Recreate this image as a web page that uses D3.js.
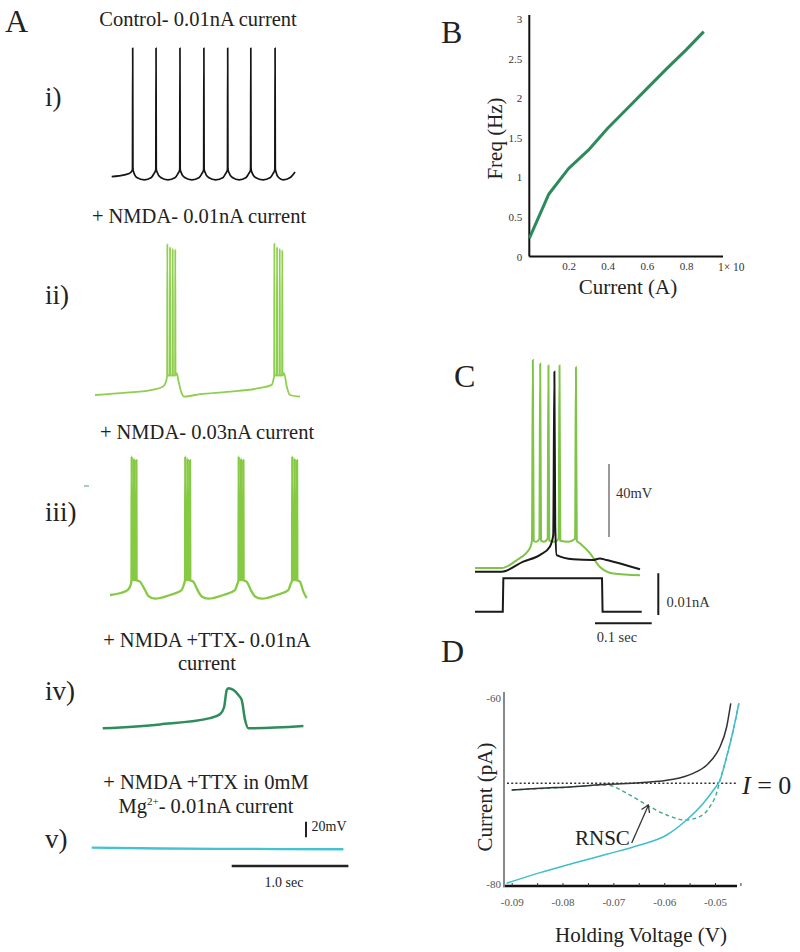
<!DOCTYPE html>
<html><head><meta charset="utf-8">
<script src="https://cdn.jsdelivr.net/npm/d3@7"></script>
<style>
body{margin:0;background:#fff}
svg{display:block}
text{font-family:"Liberation Serif","Times New Roman",serif;fill:#222}
</style>
</head><body>
<svg id="fig" width="800" height="952"></svg>
<script>
// ---------------- DATA ----------------
// Panel A traces: [time (ms), membrane potential (mV)]
const traceI = [[0,-65],[60,-64],[150,-61],[176,-57],[178,-55],[180,100],[182,-55],[186,-58],[215,-66],[280,-69],[340,-66],[362,-61],[376,-57],[378,-55],[380,100],[382,-55],[386,-58],[420,-66],[482,-69],[545,-66],[567,-61],[581,-57],[583,-55],[585,100],[587,-55],[591,-58],[625,-66],[688,-69],[750,-66],[772,-61],[786,-57],[788,-55],[790,100],[792,-55],[796,-58],[830,-66],[892,-69],[955,-66],[976,-61],[990,-57],[992,-55],[994,100],[996,-55],[1000,-58],[1034,-66],[1093,-69],[1152,-66],[1174,-61],[1188,-57],[1190,-55],[1192,100],[1194,-55],[1198,-58],[1232,-66],[1296,-69],[1360,-66],[1382,-61],[1396,-57],[1398,-55],[1400,100],[1402,-55],[1406,-58],[1430,-66],[1470,-69],[1530,-66],[1571,-59]];
const traceII = [[0,-65],[270,-62],[500,-58],[585,-54],[608,-48],[618,-40],[620,129],[622,-40],[641,-40],[643,125],[645,-40],[664,-40],[666,123],[668,-40],[686,-40],[688,122],[690,-40],[700,-37],[714,-46],[743,-63],[763,-67],[900,-64],[1129,-61],[1414,-56],[1514,-52],[1528,-46],[1535,-40],[1537,130],[1539,-40],[1558,-40],[1560,125],[1562,-40],[1581,-40],[1583,123],[1585,-40],[1603,-40],[1605,121],[1607,-40],[1620,-37],[1643,-54],[1671,-65],[1757,-67]];
const traceIII = [[0,-65],[143,-59.5],[177,-52],[184,-46],[186,113],[188,-46],[204,-46],[206,110],[208,-46],[224,-46],[226,108],[228,-46],[257,-48],[300,-58.6],[328,-66],[386,-69.7],[514,-65],[614,-58.6],[634,-51],[643,-46],[645,113],[647,-46],[664,-46],[666,110],[668,-46],[684,-46],[686,108],[688,-46],[714,-48],[757,-60.7],[786,-67],[843,-69.7],[971,-65],[1071,-58.6],[1091,-51],[1101,-46],[1103,113],[1105,-46],[1121,-46],[1123,110],[1125,-46],[1141,-46],[1143,108],[1145,-46],[1171,-48],[1214,-60.7],[1243,-67],[1300,-69.7],[1428,-65],[1528,-58.6],[1548,-51],[1560,-46],[1562,113],[1564,-46],[1581,-46],[1583,110],[1585,-46],[1601,-46],[1603,108],[1605,-46],[1628,-48],[1657,-60.7],[1686,-69]];
const traceIV = [[0,-65],[491,-60],[920,-52],[1005,-47],[1040,-38],[1063,-16],[1077,-13.7],[1163,-22.3],[1191,-28.7],[1220,-54.4],[1249,-65],[1720,-62]];
const traceV = [[0,-65],[600,-66],[1200,-66.5],[2157,-67]];
const rowTitles = [["Control- 0.01nA current"],["+ NMDA- 0.01nA current"],["+ NMDA- 0.03nA current"],["+ NMDA +TTX- 0.01nA","current"],["+ NMDA +TTX in 0mM","Mg2+- 0.01nA current"]];
const rowLabels = ["i)","ii)","iii)","iv)","v)"];
const scaleA = {mV:20, ms:1000, mVLabel:"20mV", msLabel:"1.0 sec"};

// Panel B: F-I curve
const bCurrent = [0, 0.1, 0.2, 0.3, 0.4, 0.5, 0.6, 0.7, 0.8, 0.89];
const bFreq    = [0.23, 0.79, 1.11, 1.34, 1.62, 1.87, 2.12, 2.37, 2.61, 2.84];
const bYTicks = [0, 0.5, 1, 1.5, 2, 2.5, 3];
const bXTicks = [0.2, 0.4, 0.6, 0.8];

// Panel C: [time (ms), mV] and current step [time (ms), nA]
const cGreen = [[0,-63],[47,-63],[74,-58.6],[97,-52],[100.5,-48],[102,51],[103.5,-48],[108,-48.6],[113.5,-47],[115,49],[116.5,-48],[122,-48.6],[128,-47],[129.5,48],[131,-48],[140,-48.6],[147.5,-47],[149,48],[150.5,-48],[165,-48.6],[176.5,-47],[178,47],[179.5,-48],[185,-49.4],[203,-55],[220,-62.3],[244,-66],[291,-67]];
const cBlack = [[0,-65],[47,-65],[85,-59.5],[115,-55.8],[132,-51.3],[138,-45],[140,44.6],[141.5,-40],[144,-55.9],[173,-58.2],[208,-58.6],[220,-57.7],[232,-58.6],[244,-59.5],[291,-63.7]];
const cStep = [[0,0],[49,0],[50,0.008],[224,0.008],[225,0],[294,0]];
const scaleC = {mV:40, nA:0.01, ms:100, mVLabel:"40mV", nALabel:"0.01nA", msLabel:"0.1 sec"};

// Panel D: I-V curves [holding voltage (V), current (pA)]
const dBlack = [[-0.0900,-69.89],[-0.0844,-69.71],[-0.0779,-69.54],[-0.0713,-69.28],[-0.0648,-69.11],[-0.0582,-68.74],[-0.0543,-68.10],[-0.0516,-67.20],[-0.0497,-65.95],[-0.0490,-65.24],[-0.0477,-63.09],[-0.0469,-60.57]];
const dCyan = [[-0.0910,-79.92],[-0.0844,-78.78],[-0.0779,-77.77],[-0.0713,-76.80],[-0.0648,-75.81],[-0.0595,-74.73],[-0.0556,-73.12],[-0.0523,-71.32],[-0.0503,-69.89],[-0.0490,-68.82],[-0.0477,-66.31],[-0.0464,-63.44],[-0.0453,-60.57]];
const dRNSC = [[-0.0900,-69.89],[-0.0800,-69.62],[-0.0713,-69.35],[-0.0674,-70.24],[-0.0634,-71.51],[-0.0595,-72.58],[-0.0559,-73.12],[-0.0530,-72.76],[-0.0510,-71.69],[-0.0497,-70.24],[-0.0490,-68.82],[-0.0477,-66.31],[-0.0464,-63.44],[-0.0453,-60.57]];
const dZero = -69.17;
const dXTicks = [-0.09, -0.08, -0.07, -0.06, -0.05];
const dXMinor = [-0.09,-0.085,-0.08,-0.075,-0.07,-0.065,-0.06,-0.055,-0.05,-0.045];
const dYTicks = [-60, -80];

// ---------------- DRAW ----------------
const svg = d3.select('#fig');
const serif = '"Liberation Serif","Times New Roman",serif';

function txt(x, y, s, size, opts = {}) {
  const t = svg.append('text').attr('x', x).attr('y', y).attr('font-size', size).text(s);
  if (opts.anchor) t.attr('text-anchor', opts.anchor);
  if (opts.fill) t.style('fill', opts.fill);
  if (opts.rotate) t.attr('transform', `rotate(-90,${x},${y})`);
  return t;
}

// panel letters
txt(5, 32, 'A', 32);
txt(441, 43, 'B', 32);
txt(454, 387, 'C', 32);
txt(441, 662, 'D', 32);

// ---- Panel A ----
const rows = [
  {data: traceI,   x0: 111.7, base: 176.7, color: '#151515', w: 1.7, tx: 198, ty: [26],          ly: 106},
  {data: traceII,  x0: 95,    base: 395,   color: '#8fcf4f', w: 1.8, tx: 199, ty: [223],         ly: 304},
  {data: traceIII, x0: 110,   base: 595,   color: '#86c943', w: 2.3, tx: 207, ty: [439],         ly: 521},
  {data: traceIV,  x0: 102.7, base: 728.3, color: '#2f8c5c', w: 2.5, tx: 207, ty: [647, 670],    ly: 700},
  {data: traceV,   x0: 91.7,  base: 847.7, color: '#45c2d0', w: 2.3, tx: 206, ty: [788.5, 813],  ly: 848}
];
const pxPerSec = 116.7, pxPerMv = 0.78;
rows.forEach((r, i) => {
  const x = d3.scaleLinear().domain([0, 1000]).range([r.x0, r.x0 + pxPerSec]);
  const y = d3.scaleLinear().domain([-65, -45]).range([r.base, r.base - 20 * pxPerMv]);
  const line = d3.line().x(d => x(d[0])).y(d => y(d[1])).curve(d3.curveMonotoneX);
  svg.append('path').datum(r.data).attr('d', line)
    .attr('fill', 'none').attr('stroke', r.color).attr('stroke-width', r.w)
    .attr('stroke-linejoin', 'round');
  rowTitles[i].forEach((s, k) => {
    if (s.startsWith('Mg2+')) {
      const t = svg.append('text').attr('x', r.tx).attr('y', r.ty[k]).attr('font-size', 20.5).attr('text-anchor', 'middle');
      t.append('tspan').text('Mg');
      t.append('tspan').attr('font-size', 11).attr('dy', -8).text('2+');
      t.append('tspan').attr('dy', 8).text(s.slice(4));
    } else {
      txt(r.tx, r.ty[k], s, 20.5, {anchor: 'middle'});
    }
  });
  txt(45, r.ly, rowLabels[i], 27);
});
// tiny stray mark left of row iii
svg.append('line').attr('x1', 84).attr('x2', 89).attr('y1', 486).attr('y2', 486).attr('stroke', '#6aa9a0').attr('stroke-width', 1.2);

// A scale bars
{
  const yb = d3.scaleLinear().domain([0, scaleA.mV]).range([837.3, 837.3 - scaleA.mV * pxPerMv]);
  svg.append('line').attr('x1', 306).attr('x2', 306).attr('y1', yb(0)).attr('y2', yb(scaleA.mV)).attr('stroke', '#222').attr('stroke-width', 2);
  txt(311.5, 830.5, scaleA.mVLabel, 14);
  const xb = d3.scaleLinear().domain([0, 1000]).range([231.7, 231.7 + pxPerSec]);
  svg.append('line').attr('x1', xb(0)).attr('x2', xb(scaleA.ms)).attr('y1', 866).attr('y2', 866).attr('stroke', '#222').attr('stroke-width', 2.5);
  txt(284, 887, scaleA.msLabel, 14, {anchor: 'middle'});
}

// ---- Panel B ----
{
  const x = d3.scaleLinear().domain([0, 1]).range([529.3, 725.3]);
  const y = d3.scaleLinear().domain([0, 3]).range([256.5, 19]);
  const gx = svg.append('g').attr('transform', 'translate(0,256.5)')
    .call(d3.axisBottom(x).tickValues(bXTicks).tickSize(0).tickPadding(6).tickFormat(d => d.toString()));
  const gy = svg.append('g').attr('transform', 'translate(529.3,0)')
    .call(d3.axisLeft(y).tickValues(bYTicks).tickSize(0).tickPadding(7).tickFormat(d => d.toString()));
  [gx, gy].forEach(g => {
    g.select('.domain').attr('stroke', '#111').attr('stroke-width', 2);
    g.selectAll('text').attr('font-family', serif).attr('font-size', 11).style('fill', '#333');
  });
  gy.select('.domain').attr('d', 'M0,256.5V15');
  gx.select('.domain').attr('d', 'M0,0H' + (723 - 529.3)).attr('transform', 'translate(529.3,0)');
  txt(718, 270.5, '1× 10', 11.5, {fill: '#333'});
  svg.append('path').datum(bCurrent.map((c, i) => [c, bFreq[i]]))
    .attr('d', d3.line().x(d => x(d[0])).y(d => y(d[1])))
    .attr('fill', 'none').attr('stroke', '#2d8a5c').attr('stroke-width', 3).attr('stroke-linejoin', 'round');
  txt(502, 138.5, 'Freq (Hz)', 21, {anchor: 'middle', rotate: true});
  txt(628, 294, 'Current (A)', 21, {anchor: 'middle'});
}

// ---- Panel C ----
{
  const x = d3.scaleLinear().domain([0, 100]).range([475, 531.7]);
  const y = d3.scaleLinear().domain([-65, -25]).range([571.7, 498.7]);
  const yi = d3.scaleLinear().domain([0, 0.01]).range([611.7, 569.95]);
  const lineV = d3.line().x(d => x(d[0])).y(d => y(d[1])).curve(d3.curveMonotoneX);
  svg.append('path').datum(cGreen).attr('d', lineV).attr('fill', 'none').attr('stroke', '#7fc447').attr('stroke-width', 2);
  svg.append('path').datum(cBlack).attr('d', lineV).attr('fill', 'none').attr('stroke', '#1a1a1a').attr('stroke-width', 2);
  svg.append('path').datum(cStep).attr('d', d3.line().x(d => x(d[0])).y(d => yi(d[1])))
    .attr('fill', 'none').attr('stroke', '#1a1a1a').attr('stroke-width', 2);
  // scale bars
  const ybar = d3.scaleLinear().domain([0, 40]).range([537, 537 - 40 * 1.825]);
  svg.append('line').attr('x1', 609).attr('x2', 609).attr('y1', ybar(0)).attr('y2', ybar(scaleC.mV)).attr('stroke', '#777').attr('stroke-width', 1.5);
  txt(616, 498, scaleC.mVLabel, 14.5, {fill: '#333'});
  const ibar = d3.scaleLinear().domain([0, 0.01]).range([615, 615 - 41.75]);
  svg.append('line').attr('x1', 658.3).attr('x2', 658.3).attr('y1', ibar(0)).attr('y2', ibar(scaleC.nA)).attr('stroke', '#1a1a1a').attr('stroke-width', 2);
  txt(666.5, 607, scaleC.nALabel, 14.5, {fill: '#333'});
  const tbar = d3.scaleLinear().domain([0, 100]).range([595, 595 + 56.7]);
  svg.append('line').attr('x1', tbar(0)).attr('x2', tbar(scaleC.ms)).attr('y1', 623.3).attr('y2', 623.3).attr('stroke', '#1a1a1a').attr('stroke-width', 2);
  txt(617, 642, scaleC.msLabel, 14.5, {anchor: 'middle', fill: '#333'});
}

// ---- Panel D ----
{
  const x = d3.scaleLinear().domain([-0.09, -0.05]).range([511.7, 715]);
  const y = d3.scaleLinear().domain([-80, -60]).range([884, 698]);
  const gxm = svg.append('g').attr('transform', 'translate(0,886)')
    .call(d3.axisBottom(x).tickValues(dXMinor).tickSize(-3).tickFormat(''));
  gxm.select('.domain').attr('d', 'M503,0H737').attr('stroke', '#111').attr('stroke-width', 2.5);
  gxm.selectAll('.tick line').attr('stroke', '#333').attr('stroke-width', 1);
  const gx = svg.append('g').attr('transform', 'translate(0,886)')
    .call(d3.axisBottom(x).tickValues(dXTicks).tickSize(0).tickPadding(12).tickFormat(d => d.toFixed(2)));
  gx.select('.domain').remove();
  gx.selectAll('text').attr('font-family', serif).attr('font-size', 11).style('fill', '#555');
  const gy = svg.append('g').attr('transform', 'translate(504,0)')
    .call(d3.axisLeft(y).tickValues(dYTicks).tickSize(0).tickPadding(3).tickFormat(d => d.toString()));
  gy.select('.domain').attr('d', 'M0,692V887').attr('stroke', '#888').attr('stroke-width', 2);
  gy.selectAll('text').attr('font-family', serif).attr('font-size', 11).style('fill', '#555');

  const line = d3.line().x(d => x(d[0])).y(d => y(d[1])).curve(d3.curveMonotoneX);
  svg.append('line').attr('x1', 507).attr('x2', 737).attr('y1', y(dZero)).attr('y2', y(dZero))
    .attr('stroke', '#333').attr('stroke-width', 1.6).attr('stroke-dasharray', '2,2.2');
  svg.append('path').datum(dRNSC).attr('d', line).attr('fill', 'none').attr('stroke', '#3fa994').attr('stroke-width', 1.4).attr('stroke-dasharray', '4,3');
  svg.append('path').datum(dBlack).attr('d', line).attr('fill', 'none').attr('stroke', '#333').attr('stroke-width', 1.5);
  svg.append('path').datum(dCyan).attr('d', line).attr('fill', 'none').attr('stroke', '#3dbfc9').attr('stroke-width', 1.5);

  const it = svg.append('text').attr('x', 742).attr('y', 793.5).attr('font-size', 26);
  it.append('tspan').attr('font-style', 'italic').text('I');
  it.append('tspan').text(' = 0');
  txt(575, 845, 'RNSC', 21);
  svg.append('line').attr('x1', 631.7).attr('y1', 843).attr('x2', 648.3).attr('y2', 805.5).attr('stroke', '#333').attr('stroke-width', 1.3);
  svg.append('path').attr('d', 'M641.5,809.5 L648.3,805 L649.5,813').attr('fill', 'none').attr('stroke', '#333').attr('stroke-width', 1.3);
  txt(492, 797, 'Current (pA)', 21, {anchor: 'middle', rotate: true});
  txt(641, 941.5, 'Holding Voltage (V)', 21, {anchor: 'middle'});
}
</script>
</body></html>
